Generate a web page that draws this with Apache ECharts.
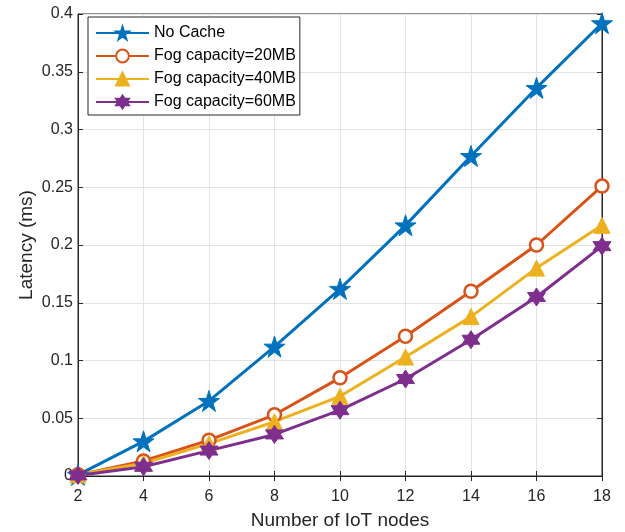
<!DOCTYPE html>
<html>
<head>
<meta charset="utf-8">
<script src="https://cdn.jsdelivr.net/npm/echarts@6/dist/echarts.min.js"></script>
<style>
  html, body { margin: 0; padding: 0; background: #fff; }
  #chart { width: 625px; height: 532px; }
</style>
</head>
<body>
<div id="chart"></div>
<script>
const nodes = [2, 4, 6, 8, 10, 12, 14, 16, 18];
const noCache = [0.001, 0.030, 0.065, 0.112, 0.162, 0.217, 0.277, 0.336, 0.392];
const fog20 = [0.001, 0.013, 0.031, 0.053, 0.085, 0.121, 0.160, 0.200, 0.251];
const fog40 = [0.001, 0.011, 0.028, 0.047, 0.069, 0.103, 0.138, 0.180, 0.217];
const fog60 = [0.0005, 0.008, 0.022, 0.036, 0.057, 0.084, 0.118, 0.155, 0.199];

const STAR5 = 'path://M50 0 L61.23 34.55 L97.55 34.55 L68.17 55.9 L79.39 90.45 L50 69.1 L20.61 90.45 L31.83 55.9 L2.45 34.55 L38.77 34.55 Z';
const STAR6 = 'path://M50 0 L64.43 25 L93.3 25 L78.87 50 L93.3 75 L64.43 75 L50 100 L35.57 75 L6.7 75 L21.13 50 L6.7 25 L35.57 25 Z';

const font = 'Liberation Sans, Arial, Helvetica, sans-serif';
const axisColor = '#262626';
const gridColor = '#e3e3e3';

const pairs = ys => nodes.map((x, i) => [x, ys[i]]);

const chart = echarts.init(document.getElementById('chart'));

const mkSeries = (name, data, color, symbol, size, filled) => ({
  name,
  type: 'line',
  data: pairs(data),
  symbol,
  symbolSize: size,
  showSymbol: true,
  lineStyle: { color, width: 3 },
  itemStyle: filled
    ? { color, borderColor: color, borderWidth: 1 }
    : { color: '#fff', borderColor: color, borderWidth: 2.5 },
  emphasis: { disabled: true },
  animation: false
});

chart.setOption({
  animation: false,
  backgroundColor: '#fff',
  grid: {
    left: 78, right: 23, top: 14, bottom: 56,
    outerBoundsMode: 'none',
    containLabel: false,
    show: true, borderColor: axisColor, borderWidth: 1
  },
  legend: {
    orient: 'vertical',
    left: 88, top: 17,
    padding: [8, 4, 5, 7],
    itemGap: 7,
    itemWidth: 53,
    itemHeight: 16,
    backgroundColor: '#fff',
    borderColor: axisColor,
    borderWidth: 1,
    borderRadius: 0,
    textStyle: { fontFamily: font, fontSize: 16, color: '#000' },
    data: ['No Cache', 'Fog capacity=20MB', 'Fog capacity=40MB', 'Fog capacity=60MB']
  },
  xAxis: [{
    type: 'value', min: 2, max: 18, interval: 2,
    name: 'Number of IoT nodes', nameLocation: 'middle', nameGap: 35,
    nameMoveOverlap: false,
    nameTextStyle: { fontFamily: font, fontSize: 19, color: axisColor },
    axisLine: { show: true, lineStyle: { color: axisColor } },
    axisTick: { show: true, inside: true, length: 5, lineStyle: { color: axisColor } },
    axisLabel: { fontFamily: font, fontSize: 16, color: axisColor, margin: 13 },
    splitLine: { show: true, lineStyle: { color: gridColor } }
  }, {
    type: 'value', min: 2, max: 18, interval: 2, position: 'top',
    axisLine: { show: true, lineStyle: { color: axisColor } },
    axisTick: { show: true, inside: true, length: 5, lineStyle: { color: axisColor } },
    axisLabel: { show: false },
    splitLine: { show: false }
  }],
  yAxis: [{
    type: 'value', min: 0, max: 0.4, interval: 0.05,
    name: 'Latency (ms)', nameLocation: 'middle', nameGap: 42,
    nameMoveOverlap: false,
    nameTextStyle: { fontFamily: font, fontSize: 19, color: axisColor },
    axisLine: { show: true, lineStyle: { color: axisColor } },
    axisTick: { show: true, inside: true, length: 5, lineStyle: { color: axisColor } },
    axisLabel: { fontFamily: font, fontSize: 16, color: axisColor, margin: 5 },
    splitLine: { show: true, lineStyle: { color: gridColor } }
  }, {
    type: 'value', min: 0, max: 0.4, interval: 0.05, position: 'right',
    axisLine: { show: true, lineStyle: { color: axisColor } },
    axisTick: { show: true, inside: true, length: 5, lineStyle: { color: axisColor } },
    axisLabel: { show: false },
    splitLine: { show: false }
  }],
  series: [
    mkSeries('No Cache', noCache, '#0072BD', STAR5, 21, true),
    mkSeries('Fog capacity=20MB', fog20, '#D95319', 'circle', 13, false),
    mkSeries('Fog capacity=40MB', fog40, '#EDB120', 'triangle', 16, true),
    mkSeries('Fog capacity=60MB', fog60, '#7E2F8E', STAR6, 18, true)
  ]
});
</script>
</body>
</html>
